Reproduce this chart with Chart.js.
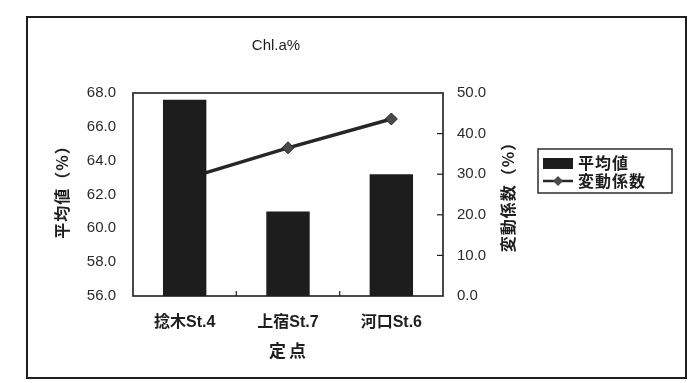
<!DOCTYPE html>
<html>
<head>
<meta charset="utf-8">
<script src="https://cdn.jsdelivr.net/npm/chart.js@4/dist/chart.umd.min.js"></script>
<style>
  html, body { margin: 0; padding: 0; background: #fff; }
  #wrap { width: 689px; height: 383px; }
</style>
</head>
<body>
<div id="wrap"><canvas id="c" width="689" height="383"></canvas></div>
<script>
// Stations along the river
const stations = ['捻木St.4', '上宿St.7', '河口St.6'];
// Mean Chl.a ratio (%) – left axis
const meanValues = [67.6, 61.0, 63.2];
// Coefficient of variation (%) – right axis
const cvValues = [28.8, 36.5, 43.6];
// Axis ranges / titles
const leftTicks = [56, 58, 60, 62, 64, 66, 68];
const rightTicks = [0, 10, 20, 30, 40, 50];
const chartTitle = 'Chl.a%';
const leftTitle = '平均値（%）';
const rightTitle = '変動係数（%）';
const xTitle = '定点';

const INK = '#1e1e1e';
const LATIN = "'Liberation Sans', Arial, 'Noto Sans CJK JP', sans-serif";
const CJK = "'Noto Sans CJK JP', 'Liberation Sans', sans-serif";

// Frame, plot box, inward ticks, titles and legend box
const decor = {
  id: 'decor',
  afterDatasetsDraw(chart) {
    const ctx = chart.ctx;
    const a = chart.chartArea;
    ctx.save();
    ctx.strokeStyle = INK;
    ctx.fillStyle = INK;

    // outer frame
    ctx.lineWidth = 2;
    ctx.strokeRect(27, 17, 659, 361);

    // plot box
    ctx.lineWidth = 1.6;
    ctx.strokeRect(a.left, a.top, a.right - a.left, a.bottom - a.top);

    // inward ticks on right axis
    const y1 = chart.scales.y1;
    ctx.lineWidth = 1.2;
    rightTicks.forEach(v => {
      if (v === rightTicks[0] || v === rightTicks[rightTicks.length - 1]) return;
      const py = y1.getPixelForValue(v);
      ctx.beginPath();
      ctx.moveTo(a.right, py);
      ctx.lineTo(a.right - 6, py);
      ctx.stroke();
    });
    // inward ticks between categories
    const xs = chart.scales.x;
    for (let i = 1; i < stations.length; i++) {
      const px = (xs.getPixelForValue(i - 1) + xs.getPixelForValue(i)) / 2;
      ctx.beginPath();
      ctx.moveTo(px, a.bottom);
      ctx.lineTo(px, a.bottom - 5);
      ctx.stroke();
    }

    // chart title
    ctx.font = '15px ' + LATIN;
    ctx.textAlign = 'center';
    ctx.textBaseline = 'middle';
    ctx.fillText(chartTitle, 276, 46);

    // x axis title
    ctx.font = 'bold 17px ' + CJK;
    ctx.letterSpacing = '3px';
    ctx.fillText(xTitle, (a.left + a.right) / 2 + 1, 351);

    // left axis title (reads bottom to top)
    ctx.font = 'bold 16px ' + CJK;
    ctx.letterSpacing = '1px';
    ctx.save();
    ctx.translate(62, 188);
    ctx.rotate(-Math.PI / 2);
    ctx.fillText(leftTitle, 0, 0);
    ctx.restore();

    // right axis title (reads bottom to top)
    ctx.save();
    ctx.translate(508, 193);
    ctx.rotate(-Math.PI / 2);
    ctx.fillText(rightTitle, 0, 0);
    ctx.restore();
    ctx.letterSpacing = '0px';

    // legend box
    const lx = 538, ly = 149, lw = 134, lh = 44;
    ctx.lineWidth = 1.4;
    ctx.strokeRect(lx, ly, lw, lh);
    const ds = chart.data.datasets;
    // bar entry
    ctx.fillStyle = ds[0].backgroundColor;
    ctx.fillRect(lx + 5, ly + 9, 30, 11);
    // line entry
    ctx.strokeStyle = ds[1].borderColor;
    ctx.lineWidth = 2.5;
    ctx.beginPath();
    ctx.moveTo(lx + 5, ly + 32);
    ctx.lineTo(lx + 35, ly + 32);
    ctx.stroke();
    ctx.fillStyle = ds[1].pointBackgroundColor;
    ctx.beginPath();
    ctx.moveTo(lx + 20, ly + 27);
    ctx.lineTo(lx + 25, ly + 32);
    ctx.lineTo(lx + 20, ly + 37);
    ctx.lineTo(lx + 15, ly + 32);
    ctx.closePath();
    ctx.fill();
    ctx.fillStyle = INK;
    ctx.font = 'bold 16px ' + CJK;
    ctx.textAlign = 'left';
    ctx.letterSpacing = '1px';
    ctx.fillText(ds[0].label, lx + 40, ly + 14);
    ctx.fillText(ds[1].label, lx + 40, ly + 32);
    ctx.letterSpacing = '0px';

    ctx.restore();
  }
};

new Chart(document.getElementById('c'), {
  data: {
    labels: stations,
    datasets: [
      {
        type: 'bar',
        label: '平均値',
        data: meanValues,
        yAxisID: 'y',
        backgroundColor: '#1d1d1d',
        borderWidth: 0,
        categoryPercentage: 1.0,
        barPercentage: 0.42,
        order: 0
      },
      {
        type: 'line',
        label: '変動係数',
        data: cvValues,
        yAxisID: 'y1',
        borderColor: '#262626',
        borderWidth: 3.5,
        pointStyle: 'rectRot',
        pointRadius: 6,
        pointBackgroundColor: '#4a4a4a',
        pointBorderColor: '#262626',
        pointBorderWidth: 1,
        tension: 0,
        order: 1
      }
    ]
  },
  options: {
    responsive: false,
    animation: false,
    devicePixelRatio: 1,
    layout: { padding: { left: 27, right: 146, top: 93, bottom: 27 } },
    plugins: {
      legend: { display: false },
      title: { display: false },
      tooltip: { enabled: false }
    },
    scales: {
      x: {
        type: 'category',
        offset: true,
        grid: { display: false, drawTicks: false },
        border: { display: false },
        ticks: {
          padding: 17,
          color: INK,
          font: { family: LATIN, size: 16, weight: 'bold' }
        },
        afterFit(s) { s.height = 60; }
      },
      y: {
        type: 'linear',
        position: 'left',
        min: leftTicks[0],
        max: leftTicks[leftTicks.length - 1],
        grid: { display: false, drawTicks: false },
        border: { display: false },
        afterBuildTicks(s) { s.ticks = leftTicks.map(v => ({ value: v })); },
        ticks: {
          padding: 17,
          color: '#2a2a2a',
          font: { family: LATIN, size: 15 },
          callback: v => Number(v).toFixed(1)
        },
        afterFit(s) { s.width = 106; }
      },
      y1: {
        type: 'linear',
        position: 'right',
        min: rightTicks[0],
        max: rightTicks[rightTicks.length - 1],
        grid: { display: false, drawTicks: false },
        border: { display: false },
        afterBuildTicks(s) { s.ticks = rightTicks.map(v => ({ value: v })); },
        ticks: {
          padding: 14,
          color: '#2a2a2a',
          font: { family: LATIN, size: 15 },
          callback: v => Number(v).toFixed(1)
        },
        afterFit(s) { s.width = 100; }
      }
    }
  },
  plugins: [decor]
});
</script>
</body>
</html>
